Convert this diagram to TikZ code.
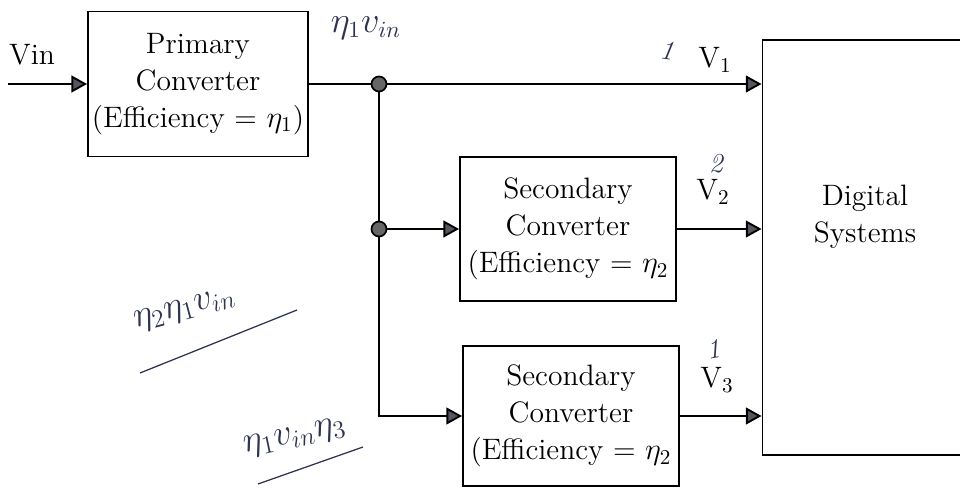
\documentclass[tikz,border=0pt]{standalone}
\usetikzlibrary{arrows.meta}
\definecolor{inkblue}{HTML}{2E3350}
\definecolor{tipgray}{HTML}{55565F}
\tikzset{
  block/.style={draw, line width=0.9pt, align=center, inner sep=0pt,
    font=\fontsize{14}{17.5}\selectfont},
  label/.style={font=\fontsize{14}{17.5}\selectfont, align=center, inner sep=1pt},
  wire/.style={line width=0.9pt},
  sig/.style={line width=0.9pt, -{Triangle[length=2.6mm, width=2.8mm, fill=tipgray]}},
  dot/.style={circle, draw, line width=0.8pt, fill=gray!80!black, inner sep=0pt, minimum size=2.5mm},
  ink/.style={text=inkblue, font=\fontsize{18}{20}\selectfont\itshape, inner sep=0pt},
  mark1/.style={ink, font=\fontsize{13}{14}\selectfont\itshape},
  inkline/.style={draw=inkblue, line width=0.6pt}
}
\begin{document}
\begin{tikzpicture}[x=0.016667cm, y=-0.016667cm]
  \useasboundingbox (0,0) rectangle (960,488);

  \node[block, minimum width=3.667cm, minimum height=2.417cm] (prim) at (198,84)
    {Primary\\Converter\\(Efficiency = $\eta_1$)};
  \node[block, minimum width=3.6cm, minimum height=2.4cm] (sec1) at (568,229)
    {Secondary\\Converter\\(Efficiency = $\eta_2$};
  \node[block, minimum width=3.6cm, minimum height=2.333cm] (sec2) at (571,416)
    {Secondary\\Converter\\(Efficiency = $\eta_2$};
  \node[draw, line width=0.9pt, inner sep=0pt, minimum width=3.95cm, minimum height=6.917cm] (ds) at (881,247.5) {};
  \node[label] (dslabel) at (865,217) {Digital\\Systems};

  \node[label] (vin) at (32,55) {Vin};
  \node[label] (v1) at (715,60) {V$_1$};
  \node[label] (v2) at (713,192) {V$_2$};
  \node[label] (v3) at (717,380) {V$_3$};

  \node[dot] (j1) at (379,84) {};
  \node[dot] (j2) at (379,229) {};
  \coordinate (in) at (8,84);

  \draw[sig] (in) -- (prim.west);
  \draw[wire] (prim) -- (j1);
  \draw[wire] (j1) -- (j2);
  \draw[sig] (j1) -- (j1 -| ds.west);
  \draw[sig] (j2) -- (sec1.west);
  \draw[sig] (j2) |- (sec2.west);
  \draw[sig] (sec1) -- (sec1 -| ds.west);
  \draw[sig] (sec2) -- (sec2 -| ds.west);

  \node[ink, font=\fontsize{16}{18}\selectfont] (n0) at (366,28) {$\eta_1 v_{in}$};
  \node[mark1, rotate=-8] (n1) at (667,50) {1};
  \node[mark1] (n2) at (716,164) {2};
  \node[mark1, rotate=10] (n3) at (713,349) {1};
  \node[ink, rotate=15] (n4) at (185,310) {$\eta_2\eta_1 v_{in}$};
  \node[ink, rotate=12] (n5) at (295,438) {$\eta_1 v_{in}\eta_3$};
  \coordinate (u1a) at (140,373);
  \coordinate (u1b) at (297,310);
  \coordinate (u2a) at (258,484);
  \coordinate (u2b) at (363,447);
  \draw[inkline] (u1a) -- (u1b);
  \draw[inkline] (u2a) -- (u2b);
\end{tikzpicture}
\end{document}
